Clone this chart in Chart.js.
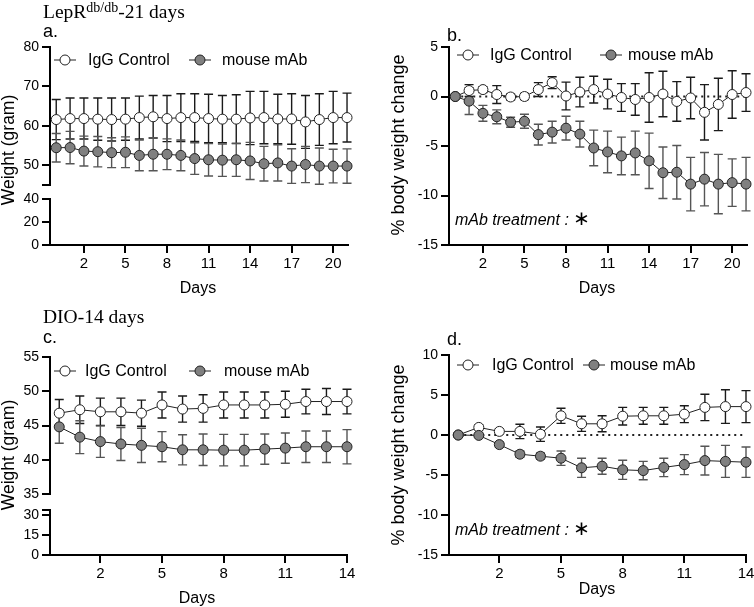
<!DOCTYPE html>
<html>
<head>
<meta charset="utf-8">
<script src="https://cdn.jsdelivr.net/npm/chart.js@4.4.1/dist/chart.umd.min.js"></script>
<style>
  html, body { margin: 0; padding: 0; background: #fff; }
  #fig { position: relative; width: 754px; height: 607px; overflow: hidden;
         font-family: 'Liberation Sans', Arial, sans-serif; color: #000; }
  #fig canvas { position: absolute; }
  .t { position: absolute; white-space: nowrap; line-height: 1; }
  .serif { font-family: 'Liberation Serif', 'Times New Roman', serif; }
  .rot { transform: translate(-50%, -50%) rotate(-90deg); }
  .ctr { transform: translate(-50%, -50%); }
  .midv { transform: translateY(-50%); }
  sup { font-size: 14px; vertical-align: baseline; position: relative; top: -6px; }
</style>
</head>
<body>
<div id="fig"></div>
<script>
// ---- data ----
const legendLabels = ["IgG Control", "mouse mAb"];

const daysLep = [0, 1, 2, 3, 4, 5, 6, 7, 8, 9, 10, 11, 12, 13, 14, 15, 16, 17, 18, 19, 20, 21];
const daysDio = [0, 1, 2, 3, 4, 5, 6, 7, 8, 9, 10, 11, 12, 13, 14];
const xTicksLep = [2, 5, 8, 11, 14, 17, 20];
const xTicksDio = [2, 5, 8, 11, 14];

// a. LepR db/db weight (gram)
const lepWeightIgG = [61.6, 61.85, 61.85, 61.7, 61.6, 61.7, 62.1, 62.3, 61.85, 62.1, 62.1, 61.85, 61.7, 61.7, 62.0, 62.1, 61.75, 61.75, 61.0, 61.6, 62.1, 62.1];
const lepWeightIgGSd = [5.1, 5.2, 5.2, 5.35, 5.45, 5.35, 5.45, 5.4, 5.85, 6.05, 6.05, 6.15, 6.0, 6.2, 6.75, 6.65, 6.25, 6.4, 6.7, 6.55, 6.65, 6.2];
const lepWeightMab = [54.45, 54.5, 53.6, 53.45, 53.2, 53.3, 52.5, 52.8, 52.8, 52.5, 51.7, 51.4, 51.3, 51.4, 51.1, 50.4, 50.6, 49.8, 50.2, 49.8, 49.8, 49.8];
const lepWeightMabSd = [3.6, 4.1, 3.8, 3.85, 3.8, 3.9, 3.9, 4.2, 3.9, 3.9, 4.0, 4.1, 4.1, 4.2, 4.7, 4.4, 4.6, 4.4, 4.6, 4.6, 4.25, 4.35];

// b. LepR db/db % body weight change
const lepChangeIgG = [0, 0.6, 0.7, 0.2, -0.05, 0, 0.7, 1.4, 0.05, 0.45, 0.7, 0.25, -0.1, -0.3, -0.1, 0.25, -0.5, -0.15, -1.6, -0.8, 0.2, 0.4];
const lepChangeIgGSd = [0, 0.6, 0.3, 0.9, 0.3, 0.3, 0.7, 0.6, 1.4, 1.5, 1.35, 1.5, 1.4, 1.6, 2.5, 2.3, 2.0, 2.1, 2.8, 2.65, 2.4, 1.9];
const lepChangeMab = [0, -0.47, -1.7, -2.05, -2.6, -2.5, -3.85, -3.6, -3.2, -3.8, -5.2, -5.6, -6.0, -5.7, -6.5, -7.7, -7.65, -8.85, -8.35, -8.85, -8.7, -8.85];
const lepChangeMabSd = [0, 1.35, 0.8, 0.7, 0.5, 0.7, 1.05, 1.1, 1.2, 1.3, 1.8, 2.1, 1.9, 2.2, 2.8, 2.6, 2.7, 2.7, 2.7, 3.0, 2.4, 2.7];

// c. DIO weight (gram)
const dioWeightIgG = [46.8, 47.3, 47.0, 47.0, 46.8, 48.0, 47.4, 47.5, 48.0, 48.0, 48.0, 48.1, 48.5, 48.5, 48.5];
const dioWeightIgGSd = [2.0, 2.0, 2.0, 2.0, 1.9, 1.9, 1.9, 2.0, 1.9, 1.9, 1.9, 1.9, 1.8, 1.9, 1.8];
const dioWeightMab = [44.8, 43.3, 42.65, 42.3, 42.1, 41.9, 41.45, 41.45, 41.4, 41.4, 41.55, 41.7, 41.9, 41.9, 41.9];
const dioWeightMabSd = [2.4, 2.4, 2.3, 2.4, 2.5, 2.2, 2.2, 2.3, 2.3, 2.3, 2.2, 2.2, 2.3, 2.3, 2.5];

// d. DIO % body weight change
const dioChangeIgG = [0, 0.95, 0.45, 0.45, 0.1, 2.4, 1.4, 1.4, 2.35, 2.4, 2.4, 2.6, 3.45, 3.55, 3.55];
const dioChangeIgGSd = [0, 0.3, 0.3, 0.9, 0.9, 0.95, 0.95, 1.0, 1.1, 1.05, 1.05, 1.05, 1.65, 2.1, 2.0];
const dioChangeMab = [0, -0.05, -1.2, -2.4, -2.65, -2.9, -4.1, -3.9, -4.35, -4.45, -4.05, -3.7, -3.2, -3.3, -3.4];
const dioChangeMabSd = [0, 0.2, 0.3, 0.4, 0.4, 0.9, 1.2, 1.0, 1.2, 1.15, 1.15, 1.25, 1.8, 2.0, 1.9];

// y tick values / labels
const aUpperTicks = [45, 50, 60, 70, 80];
const aUpperLabels = ["", "50", "60", "70", "80"];
const aLowerTicks = [0, 20, 40];
const aLowerLabels = ["0", "20", "40"];
const changeTicksB = [-15, -10, -5, 0, 5];
const changeLabelsB = ["-15", "-10", "-5", "0", "5"];
const cUpperTicks = [35, 40, 45, 50, 55];
const cUpperLabels = ["35", "40", "45", "50", "55"];
const cLowerTicks = [0, 15, 30, 34];
const cLowerLabels = ["0", "15", "30", ""];
const changeTicksD = [-15, -10, -5, 0, 5, 10];
const changeLabelsD = ["-15", "-10", "-5", "0", "5", "10"];

// ---- drawing ----
const FONT = "'Liberation Sans', Arial, sans-serif";
const fig = document.getElementById("fig");
const pts = (xs, ys) => xs.map((x, i) => ({ x, y: ys[i] }));

// error bars from the sd arrays, drawn through the y scale
const errorBars = {
  id: "errorBars",
  beforeDatasetsDraw(chart) {
    const { ctx } = chart;
    const y = chart.scales.y;
    chart.data.datasets.forEach((ds, i) => {
      if (!ds.sd) return;
      const meta = chart.getDatasetMeta(i);
      ctx.save();
      ctx.strokeStyle = ds.errColor;
      ctx.lineWidth = 1.4;
      meta.data.forEach((pt, j) => {
        const e = ds.sd[j];
        if (!e) return;
        const v = ds.data[j].y;
        const t = y.getPixelForValue(v + e);
        const b = y.getPixelForValue(v - e);
        const x = pt.x;
        ctx.beginPath();
        ctx.moveTo(x, t); ctx.lineTo(x, b);
        ctx.moveTo(x - 4.5, t); ctx.lineTo(x + 4.5, t);
        ctx.moveTo(x - 4.5, b); ctx.lineTo(x + 4.5, b);
        ctx.stroke();
      });
      ctx.restore();
    });
  }
};

function series(xs, ys, sd, filled) {
  return {
    data: pts(xs, ys),
    sd: sd,
    errColor: filled ? "#555" : "#1a1a1a",
    borderColor: "#222",
    borderWidth: 1,
    pointRadius: 5,
    pointBorderWidth: 1,
    pointBorderColor: "#222",
    pointBackgroundColor: filled ? "#808080" : "#fff",
    order: filled ? 0 : 1,
    clip: false
  };
}

function zeroLine(xs) {
  return {
    data: [{ x: xs[0], y: 0 }, { x: xs[xs.length - 1], y: 0 }],
    borderColor: "#222",
    borderWidth: 2,
    borderDash: [2, 4],
    pointRadius: 0,
    order: 2,
    clip: false
  };
}

// box: canvas rect (page px); area: wanted plot rect (page px)
function panel(box, area, cfg) {
  const cv = document.createElement("canvas");
  cv.width = box.w; cv.height = box.h;
  cv.style.left = box.x + "px"; cv.style.top = box.y + "px";
  cv.style.width = box.w + "px"; cv.style.height = box.h + "px";
  fig.appendChild(cv);

  const grid = { drawOnChartArea: false, drawTicks: true, tickLength: 8, color: "#000", lineWidth: 2 };
  const border = { display: true, color: "#000", width: 2 };
  const showX = !!cfg.xTicks;
  const pad = {
    left: area.l - box.x - 40,
    right: box.x + box.w - area.r,
    top: area.t - box.y,
    bottom: box.y + box.h - area.b - (showX ? 30 : 0)
  };

  const chart = new Chart(cv, {
    type: "line",
    data: { datasets: cfg.datasets || [] },
    options: {
      responsive: false,
      animation: false,
      devicePixelRatio: 1,
      events: [],
      layout: { autoPadding: false, padding: pad },
      plugins: { legend: { display: false }, tooltip: { enabled: false } },
      scales: {
        x: {
          type: "linear",
          min: cfg.xMin, max: cfg.xMax,
          display: showX,
          grid, border,
          afterFit: s => { s.height = showX ? 30 : 0; },
          afterBuildTicks: s => { if (showX) s.ticks = cfg.xTicks.map(v => ({ value: v })); },
          ticks: { color: "#000", font: { family: FONT, size: 15 }, padding: 2, maxRotation: 0, autoSkip: false,
                   callback: v => String(v) }
        },
        y: {
          type: "linear",
          min: cfg.yMin, max: cfg.yMax,
          grid, border,
          afterFit: s => { s.width = 40; },
          afterBuildTicks: s => { s.ticks = cfg.yTicks.map(v => ({ value: v })); },
          ticks: { color: "#000", font: { family: FONT, size: 14 }, padding: 3, autoSkip: false,
                   callback: v => cfg.yLabels[cfg.yTicks.indexOf(v)] }
        }
      }
    },
    plugins: [errorBars]
  });

  // nudge the layout padding until the plot rect sits where wanted
  for (let k = 0; k < 4; k++) {
    const ca = chart.chartArea;
    const dl = area.l - (box.x + ca.left), dt = area.t - (box.y + ca.top);
    const dr = (box.x + ca.right) - area.r, db = (box.y + ca.bottom) - area.b;
    if (Math.abs(dl) + Math.abs(dt) + Math.abs(dr) + Math.abs(db) < 0.5) break;
    pad.left += dl; pad.top += dt; pad.right += dr; pad.bottom += db;
    chart.options.layout.padding = { ...pad };
    chart.update("none");
  }
  return chart;
}

// a. upper + lower segment (broken axis)
panel({ x: 0, y: 0, w: 380, h: 205 }, { l: 50, r: 348, t: 47, b: 185 }, {
  xMin: -0.45, xMax: 21.07, xTicks: null,
  yMin: 45, yMax: 80, yTicks: aUpperTicks, yLabels: aUpperLabels,
  datasets: [series(daysLep, lepWeightIgG, lepWeightIgGSd, false), series(daysLep, lepWeightMab, lepWeightMabSd, true)]
});
panel({ x: 0, y: 180, w: 380, h: 130 }, { l: 50, r: 348, t: 199, b: 245 }, {
  xMin: -0.45, xMax: 21.07, xTicks: xTicksLep,
  yMin: 0, yMax: 40, yTicks: aLowerTicks, yLabels: aLowerLabels
});

// b.
panel({ x: 380, y: 0, w: 384, h: 310 }, { l: 449, r: 747, t: 47, b: 245 }, {
  xMin: -0.45, xMax: 21.07, xTicks: xTicksLep,
  yMin: -15, yMax: 5, yTicks: changeTicksB, yLabels: changeLabelsB,
  datasets: [zeroLine(daysLep), series(daysLep, lepChangeIgG, lepChangeIgGSd, false), series(daysLep, lepChangeMab, lepChangeMabSd, true)]
});

// c. upper + lower segment
panel({ x: 0, y: 310, w: 380, h: 200 }, { l: 50, r: 347, t: 357, b: 494 }, {
  xMin: -0.45, xMax: 14, xTicks: null,
  yMin: 35, yMax: 55, yTicks: cUpperTicks, yLabels: cUpperLabels,
  datasets: [series(daysDio, dioWeightIgG, dioWeightIgGSd, false), series(daysDio, dioWeightMab, dioWeightMabSd, true)]
});
panel({ x: 0, y: 490, w: 380, h: 117 }, { l: 50, r: 347, t: 510, b: 555 }, {
  xMin: -0.45, xMax: 14, xTicks: xTicksDio,
  yMin: 0, yMax: 34, yTicks: cLowerTicks, yLabels: cLowerLabels
});

// d.
panel({ x: 380, y: 310, w: 384, h: 297 }, { l: 449, r: 746, t: 355, b: 555 }, {
  xMin: -0.45, xMax: 14, xTicks: xTicksDio,
  yMin: -15, yMax: 10, yTicks: changeTicksD, yLabels: changeLabelsD,
  datasets: [zeroLine(daysDio), series(daysDio, dioChangeIgG, dioChangeIgGSd, false), series(daysDio, dioChangeMab, dioChangeMabSd, true)]
});

// ---- text ----
function text(html, x, y, size, mode, extra) {
  const d = document.createElement("div");
  d.className = "t " + (mode === "base" ? "" : mode) + " " + (extra || "");
  d.style.fontSize = size + "px";
  d.style.left = x + "px";
  d.style.top = (mode === "base" ? y - 0.85 * size : y) + "px";
  d.innerHTML = html;
  fig.appendChild(d);
  return d;
}

function legend(y, items) {
  items.forEach((it, i) => {
    const s = document.createElementNS("http://www.w3.org/2000/svg", "svg");
    s.setAttribute("width", 24); s.setAttribute("height", 14);
    s.style.position = "absolute";
    s.style.left = (it.cx - 12) + "px"; s.style.top = (y - 7) + "px";
    s.innerHTML = '<line x1="1" y1="7" x2="23" y2="7" stroke="#222" stroke-width="1"/>' +
      '<circle cx="12" cy="7" r="5" stroke="#222" stroke-width="1" fill="' + (i ? "#808080" : "#fff") + '"/>';
    fig.appendChild(s);
    text(legendLabels[i], it.tx, y, 16, "midv");
  });
}

text("LepR<sup>db/db</sup>-21 days", 43, 18.5, 19.5, "base", "serif");
text("a.", 43, 37.5, 18, "base");
text("b.", 447, 41.5, 18, "base");
text("DIO-14 days", 43, 323.5, 19.5, "base", "serif");
text("c.", 43, 343.5, 18, "base");
text("d.", 447, 345.5, 18, "base");

text("Weight (gram)", 9, 150, 17.5, "rot");
text("Weight (gram)", 9, 455, 17.5, "rot");
text("% body weight change", 398, 145, 18, "rot");
text("% body weight change", 398, 455, 18, "rot");

text("Days", 198, 288, 16, "ctr");
text("Days", 597, 288, 16, "ctr");
text("Days", 197, 598, 16, "ctr");
text("Days", 597, 589, 16, "ctr");

text('<i>mAb treatment : </i><span style="font-family:\'DejaVu Sans\';font-size:20px">∗</span>', 455, 218, 16, "midv");
text('<i>mAb treatment : </i><span style="font-family:\'DejaVu Sans\';font-size:20px">∗</span>', 455, 528, 16, "midv");

legend(60, [{ cx: 65, tx: 88 }, { cx: 200, tx: 222 }]);
legend(55, [{ cx: 468, tx: 490 }, { cx: 611, tx: 628 }]);
legend(371, [{ cx: 65, tx: 85 }, { cx: 200, tx: 224 }]);
legend(365, [{ cx: 468, tx: 492 }, { cx: 594, tx: 610 }]);
</script>
</body>
</html>
